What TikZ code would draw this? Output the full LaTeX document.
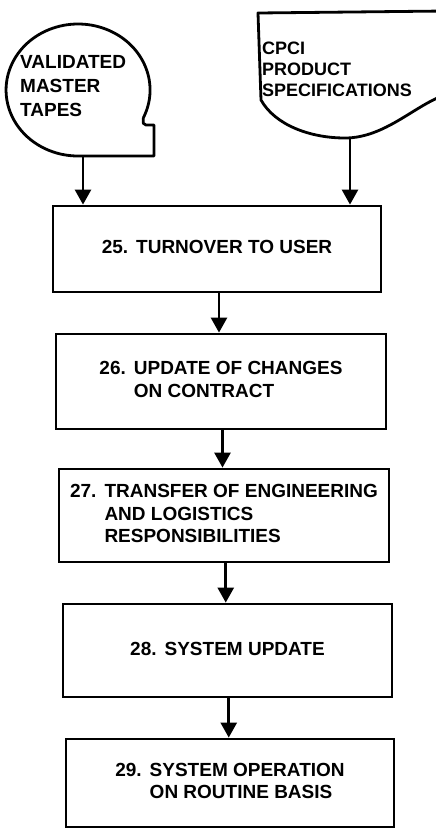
\documentclass[tikz,border=0pt]{standalone}
\usepackage{fontspec}
\setmainfont{Liberation Sans}
\usetikzlibrary{arrows.meta,calc}
\tikzset{
  outline/.style={line width=2.8pt, line join=round},
  stepbox/.style={draw, line width=2.8pt, inner sep=0pt, align=left,
    font=\bfseries\fontsize{19}{22.5}\selectfont},
  lbl/.style={inner sep=0pt, align=left, font=\bfseries\fontsize{19}{24}\selectfont},
  flow/.style={line width=2.6pt, -{Triangle[width=16pt,length=15pt]}},
}
\newcommand{\steptext}[2]{\begin{tabular}{@{}l@{\hspace{8pt}}l@{}}#1&#2\end{tabular}}
\newcommand{\vflow}[2]{%
  \coordinate (mid#1) at ($(#1.south)!0.5!(#2.north)$);
  \draw[flow] (mid#1 |- #1.south) -- (mid#1 |- #2.north);}
\begin{document}
\begin{tikzpicture}[x=1pt,y=-1pt]
\useasboundingbox (0,0) rectangle (436,831);
% tape symbol
\draw[outline] (143.3,117.9) arc[start angle=-25, end angle=270, x radius=72pt, y radius=66pt]
  -- (154,156) -- (154,125) -- (146,125) .. controls (143,124) .. (143.3,117.9);
\node[lbl, anchor=west] (tapetext) at (20,86) {VALIDATED\\MASTER\\TAPES};
\coordinate (tapebot) at (83,156);
% document symbol
\begin{scope}
\clip (0,0) rectangle (436,831);
\draw[outline] (445,11) -- (258,13) -- (261,100)
  .. controls (275,125) and (310,138) .. (345,138)
  .. controls (385,138) and (415,105) .. (445,95);
\end{scope}
\node[lbl, anchor=west, font=\bfseries\fontsize{18}{21}\selectfont] (doctext) at (262,69) {CPCI\\PRODUCT\\SPECIFICATIONS};
\coordinate (docbot) at (350,138);
% steps
\node[stepbox, minimum width=328pt, minimum height=86pt] (b25) at (217,249)
  {\steptext{25.}{TURNOVER TO USER}};
\node[stepbox, minimum width=330pt, minimum height=95pt] (b26) at (221,381.5)
  {\steptext{26.}{UPDATE OF CHANGES\\ & ON CONTRACT}};
\node[stepbox, minimum width=330pt, minimum height=93pt] (b27) at (224,515.5)
  {\steptext{27.}{TRANSFER OF ENGINEERING\\ & AND LOGISTICS\\ & RESPONSIBILITIES}};
\node[stepbox, minimum width=329pt, minimum height=93pt] (b28) at (227.5,650.5)
  {\steptext{28.}{SYSTEM UPDATE}};
\node[stepbox, minimum width=328pt, minimum height=88pt] (b29) at (230,783)
  {\steptext{29.}{SYSTEM OPERATION\\ & ON ROUTINE BASIS}};
% connectors
\draw[flow] (tapebot) -- (tapebot |- b25.north);
\draw[flow] (docbot) -- (docbot |- b25.north);
\vflow{b25}{b26}
\vflow{b26}{b27}
\vflow{b27}{b28}
\vflow{b28}{b29}
\end{tikzpicture}
\end{document}
